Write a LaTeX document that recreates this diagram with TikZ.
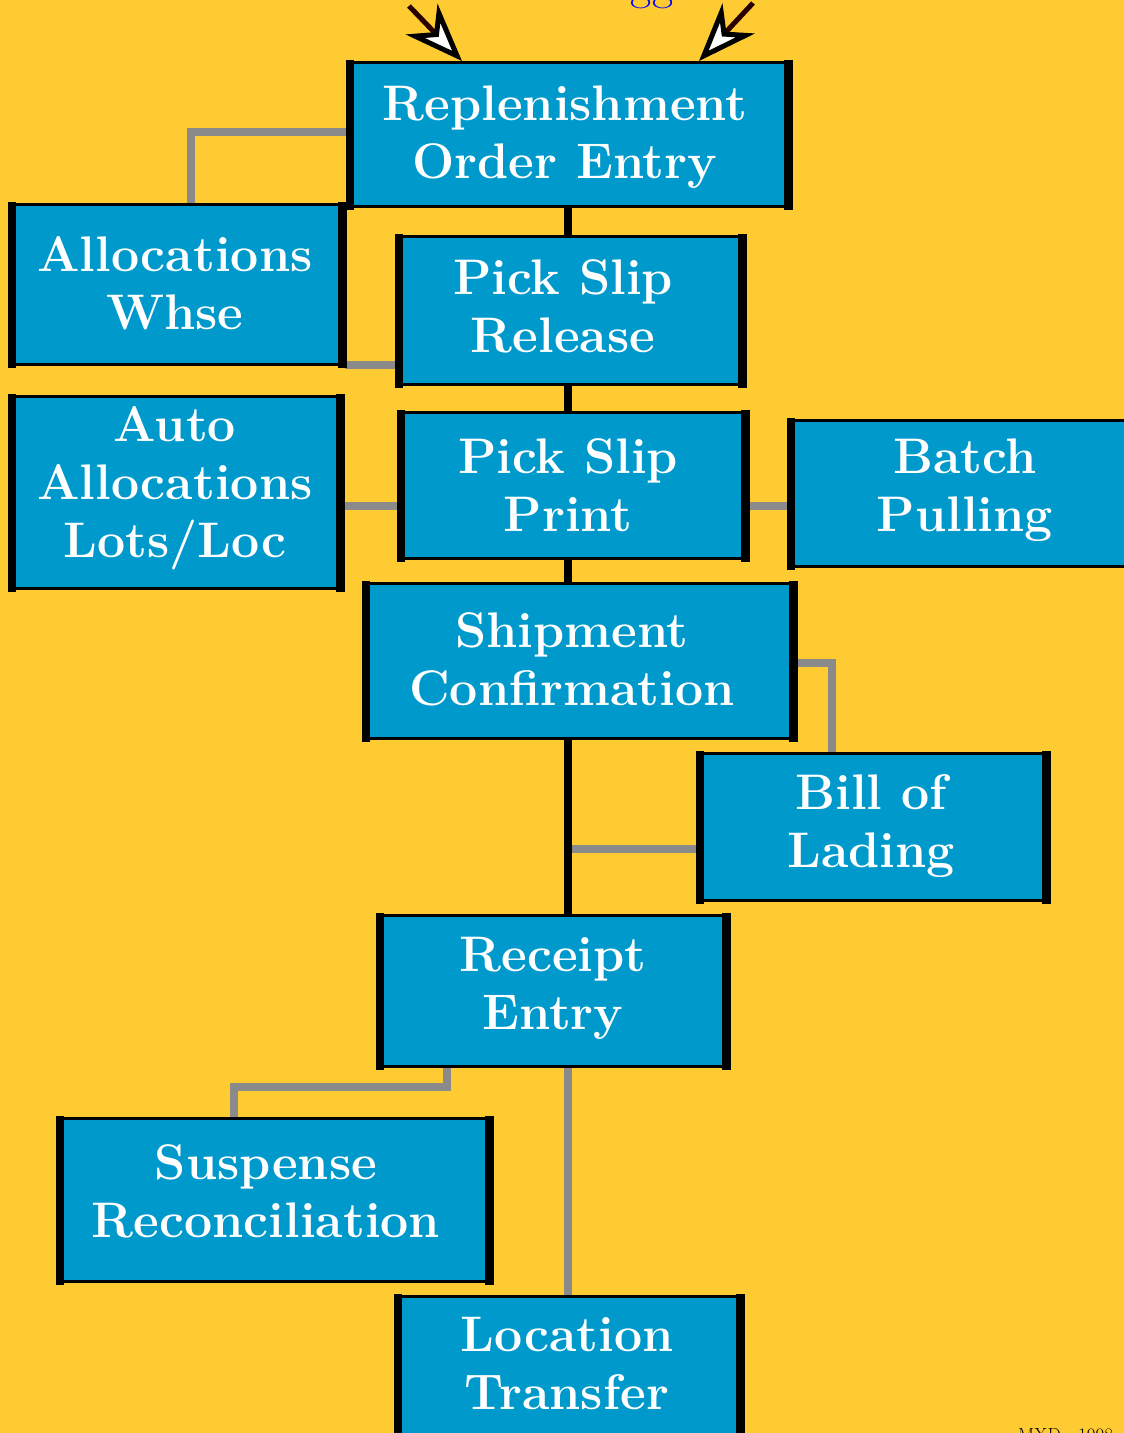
\documentclass[tikz,border=0pt]{standalone}
\usetikzlibrary{arrows.meta}
\definecolor{bgyellow}{RGB}{255,203,51}
\definecolor{boxblue}{RGB}{0,153,204}
\definecolor{conngray}{RGB}{138,138,138}
\definecolor{shaftdark}{RGB}{40,0,0}
\pgfdeclarelayer{back}
\pgfdeclarelayer{bg}
\pgfsetlayers{back,bg,main}
\newcommand\sidebars[1]{%
  \fill[black] ([xshift=-1.5pt,yshift=1.5pt]#1.north west) rectangle ([xshift=7pt,yshift=-1.5pt]#1.south west);
  \fill[black] ([xshift=1.5pt,yshift=1.5pt]#1.north east) rectangle ([xshift=-7pt,yshift=-1.5pt]#1.south east);}
\tikzset{
  bx/.style={draw=black, line width=3pt, fill=boxblue, inner sep=0pt, rectangle},
  lbl/.style={text=white, align=center, inner sep=0pt, font=\fontsize{50}{58}\selectfont\bfseries},
  conn/.style={draw=conngray, line width=8pt, line join=miter},
  spine/.style={draw=black, line width=8pt},
  arr/.style={draw=shaftdark, line width=5pt,
    -{Stealth[length=58pt,width=44pt,inset=18pt,fill=white,color=black,line width=5pt]}}
}
\begin{document}
\begin{tikzpicture}[x=1pt,y=-1pt]
\begin{pgfonlayer}{back}
\fill[bgyellow] (0,0) rectangle (1124,1433);
\end{pgfonlayer}
\useasboundingbox (0,0) rectangle (1124,1433);

% boxes
\node[bx, minimum width=441pt, minimum height=144pt] (roe) at (569,134.5) {};
\node[bx, minimum width=333pt, minimum height=160pt] (aw) at (177,284.5) {};
\node[bx, minimum width=346pt, minimum height=148pt] (psr) at (570.5,310.5) {};
\node[bx, minimum width=331pt, minimum height=192pt] (aall) at (176,492.5) {};
\node[bx, minimum width=347pt, minimum height=146pt] (psp) at (573,485.5) {};
\node[bx, minimum width=351pt, minimum height=146pt] (bp) at (965,493.5) {};
\node[bx, minimum width=430pt, minimum height=155pt] (sc) at (579.5,661) {};
\node[bx, minimum width=349pt, minimum height=147pt] (bol) at (873,827) {};
\node[bx, minimum width=349pt, minimum height=151pt] (re) at (553,991) {};
\node[bx, minimum width=432pt, minimum height=163pt] (sr) at (274.5,1200) {};
\node[bx, minimum width=345pt, minimum height=162pt] (lt) at (569,1377.5) {};
\foreach \n in {roe,aw,psr,aall,psp,bp,sc,bol,re,sr,lt}{\sidebars{\n}}

% labels
\node[lbl] (roeT) at (565,137) {Replenishment\\Order Entry};
\node[lbl] (awT) at (175,283) {Allocations\\Whse};
\node[lbl] (psrT) at (563,306) {Pick Slip\\Release};
\node[lbl] (aallT) at (175,488) {Auto\\Allocations\\Lots/Loc};
\node[lbl] (pspT) at (568,485) {Pick Slip\\Print};
\node[lbl] (bpT) at (965,490) {Batch\\Pulling};
\node[lbl] (scT) at (572,659) {Shipment\\Confirmation};
\node[lbl] (bolT) at (871,826) {Bill of\\Lading};
\node[lbl] (reT) at (553,988) {Receipt\\Entry};
\node[lbl] (srT) at (266,1191) {Suspense\\Reconciliation};
\node[lbl] (ltT) at (567,1363) {Location\\Transfer};

% partially visible texts
\node[text=blue, anchor=base, inner sep=0pt, font=\fontsize{46}{46}\selectfont] (topT) at (652,-1) {gg};
\node[text=black, anchor=base west, inner sep=0pt, font=\fontsize{19}{19}\selectfont] (mxd) at (1018,1441) {MXD - 1998};

% connectors
\coordinate (sx) at (568,0);
\begin{pgfonlayer}{bg}
\draw[spine] (roe.south -| sx) -- (psr.north -| sx);
\draw[spine] (psr.south -| sx) -- (psp.north -| sx);
\draw[spine] (psp.south -| sx) -- (sc.north -| sx);
\draw[spine] (sc.south -| sx) -- (re.north -| sx);
\draw[conn] (roe.west |- 0,132) -| (aw.north -| 191,0);
\draw[conn] (aw.east |- 0,365) -- (psr.west |- 0,365);
\draw[conn] (aall.east |- 0,506) -- (psp.west |- 0,506);
\draw[conn] (psp.east |- 0,506) -- (bp.west |- 0,506);
\draw[conn] (sc.east |- 0,663) -| (bol.north -| 832,0);
\coordinate (tap) at (572,849);
\draw[conn] (tap) -- (bol.west |- tap);
\draw[conn] (re.south -| 447,0) |- (234,1087) -- (sr.north -| 234,0);
\draw[conn] (re.south -| sx) -- (lt.north -| sx);
\end{pgfonlayer}

% incoming arrows
\coordinate (a1) at (409,6);
\coordinate (a2) at (753,3);
\draw[arr] (a1) -- (roe.north -| 462,0);
\draw[arr] (a2) -- (roe.north -| 699,0);
\end{tikzpicture}
\end{document}
